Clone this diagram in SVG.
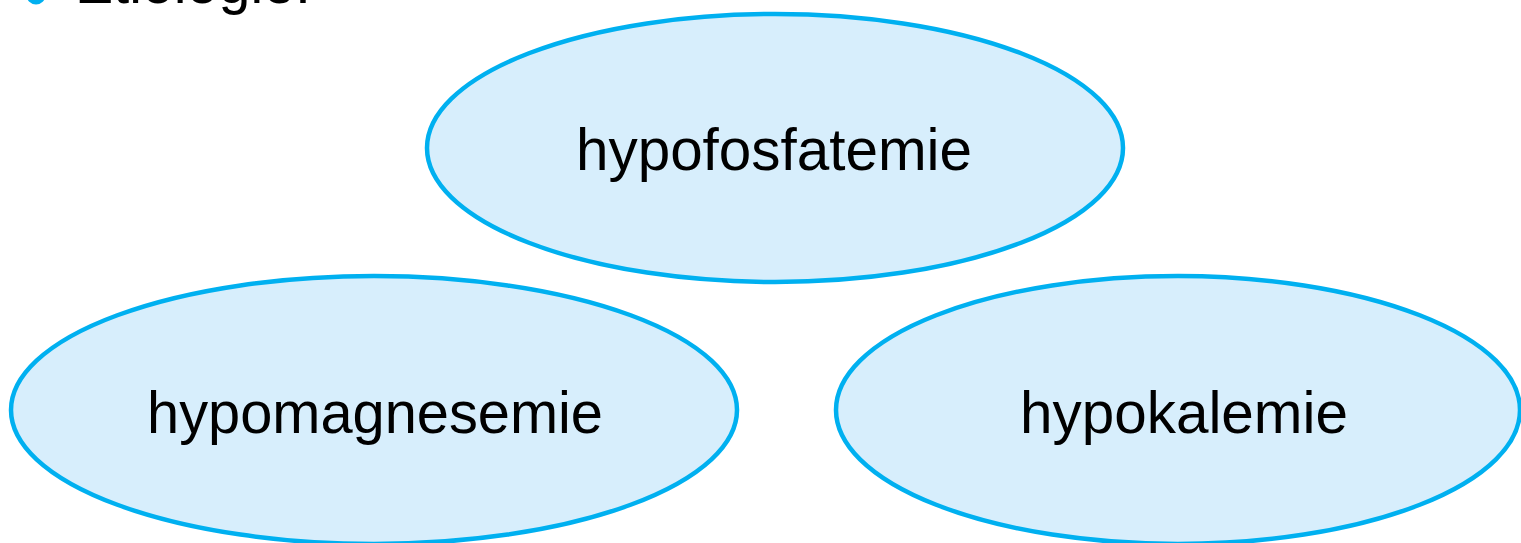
<svg xmlns="http://www.w3.org/2000/svg" width="1521" height="543" viewBox="0 0 1521 543">
<style>
.n ellipse{fill:#D7EEFC;stroke:#00B0F0;stroke-width:4.5}
.t{font-family:"Liberation Sans",Arial,sans-serif;font-size:60px;fill:#000}
</style>
<rect width="1521" height="543" fill="#fff"/>
<g id="header">
<circle cx="36" cy="-5" r="9.5" fill="#00B0F0"/>
<text class="t" x="75" y="3" textLength="236" lengthAdjust="spacingAndGlyphs">Etiologie:</text>
</g>
<g id="connectors"></g>
<g id="n1" class="n"><ellipse cx="775" cy="148" rx="348" ry="134"/><text class="t" x="576" y="170" textLength="396" lengthAdjust="spacingAndGlyphs">hypofosfatemie</text></g>
<g id="n2" class="n"><ellipse cx="374" cy="410" rx="363" ry="134"/><text class="t" x="147" y="433" textLength="456" lengthAdjust="spacingAndGlyphs">hypomagnesemie</text></g>
<g id="n3" class="n"><ellipse cx="1178" cy="410" rx="342" ry="134"/><text class="t" x="1020" y="433" textLength="328" lengthAdjust="spacingAndGlyphs">hypokalemie</text></g>
</svg>
